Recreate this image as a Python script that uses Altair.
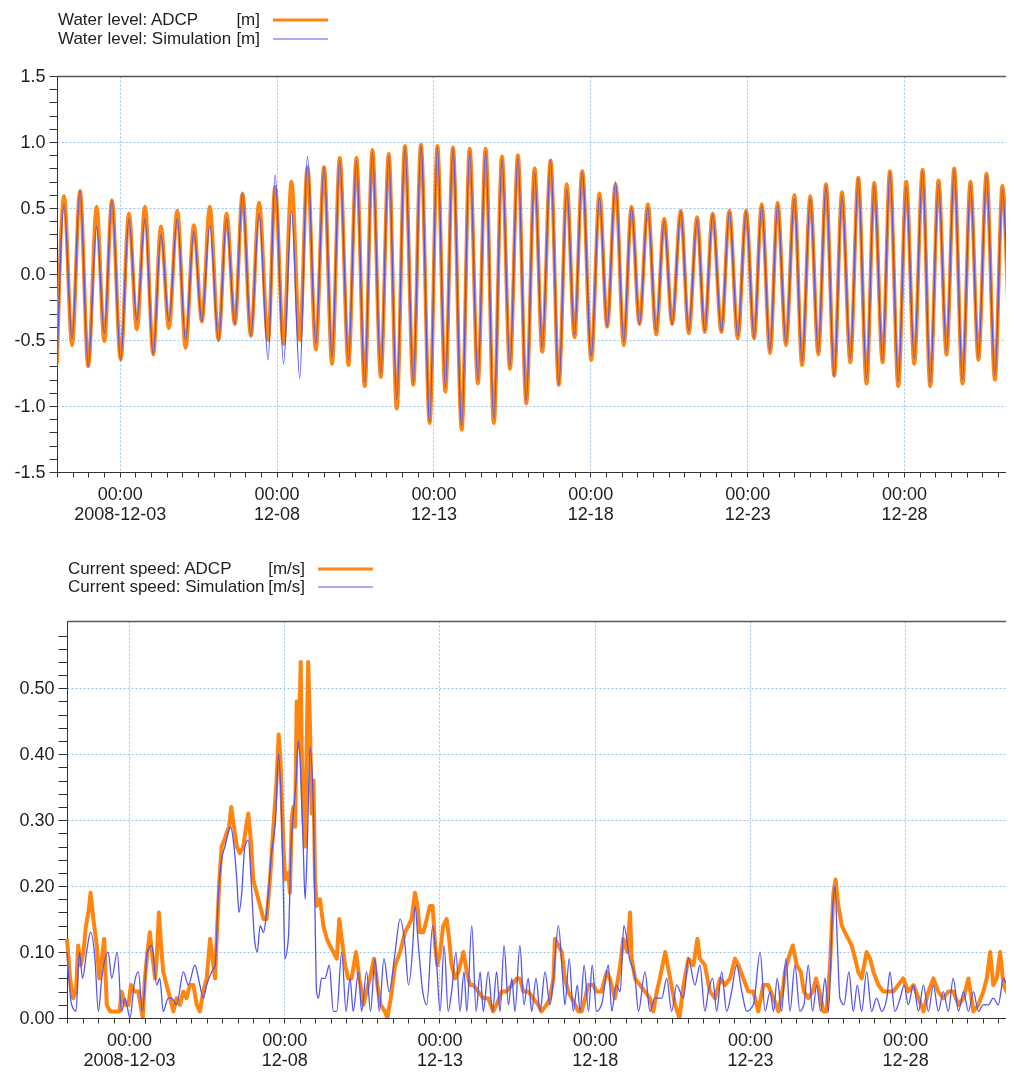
import altair as alt
import pandas as pd
import numpy as np

FONT = "Liberation Sans"
TEXT = "#1e1e1e"
ORANGE = "#ff8410"
BLUE = "#5555ee"
GRID = "#9cc3ee"
AXIS = "#333333"

# ---------------- Water level: tidal extremes (hours after 2008-12-01 00:00) ----------------
WL_HOURS = [
    0.0, 5.4, 11.5, 17.6, 23.9, 30.3, 36.2, 42.0, 48.7, 55.0,
    61.1, 67.3, 73.6, 79.5, 85.6, 92.0, 98.4, 104.7, 110.8, 116.9,
    123.6, 129.7, 136.1, 141.9, 148.3, 154.6, 161.5, 166.9, 173.3, 179.4,
    185.7, 191.6, 198.0, 204.3, 210.4, 216.3, 223.0, 229.1, 235.4, 241.3,
    247.7, 253.8, 259.9, 266.2, 272.6, 278.4, 285.1, 291.0, 297.1, 302.9,
    309.6, 315.7, 322.0, 327.9, 334.2, 340.4, 346.5, 352.6, 359.0, 365.4,
    371.2, 377.6, 383.9, 390.0, 395.9, 401.8, 408.7, 415.0, 420.9, 427.3,
    433.6, 439.5, 445.6, 452.0, 458.4, 464.5, 470.6, 477.2, 483.3, 489.7,
    495.5, 501.6, 508.3, 514.4, 520.8, 527.2, 533.3, 539.1, 545.5, 551.3,
    557.7, 564.1, 570.0, 576.3, 582.4, 588.3, 594.6, 600.5, 606.9, 613.0,
    619.3, 625.2, 631.6, 637.2, 643.6, 649.7, 655.8, 662.2, 668.0, 674.4,
    680.5, 686.4, 692.7, 698.8, 704.9, 711.1, 717.5, 723.3, 729.7, 732.0,
]
WL_ADCP = [
    -0.68, 0.59, -0.54, 0.63, -0.70, 0.51, -0.51, 0.56, -0.65, 0.46,
    -0.42, 0.51, -0.61, 0.36, -0.41, 0.48, -0.56, 0.37, -0.36, 0.51,
    -0.50, 0.46, -0.38, 0.61, -0.47, 0.54, -0.50, 0.66, -0.53, 0.70,
    -0.50, 0.81, -0.57, 0.81, -0.68, 0.88, -0.69, 0.88, -0.85, 0.94,
    -0.78, 0.91, -1.02, 0.97, -0.84, 0.98, -1.13, 0.97, -0.89, 0.96,
    -1.18, 0.95, -0.83, 0.95, -1.13, 0.89, -0.72, 0.90, -0.98, 0.80,
    -0.59, 0.86, -0.84, 0.68, -0.48, 0.78, -0.65, 0.61, -0.40, 0.68,
    -0.54, 0.51, -0.38, 0.53, -0.46, 0.42, -0.38, 0.48, -0.45, 0.43,
    -0.44, 0.46, -0.44, 0.48, -0.49, 0.48, -0.49, 0.53, -0.60, 0.54,
    -0.54, 0.60, -0.69, 0.59, -0.61, 0.68, -0.77, 0.62, -0.67, 0.73,
    -0.83, 0.69, -0.67, 0.78, -0.85, 0.70, -0.68, 0.79, -0.85, 0.71,
    -0.61, 0.80, -0.83, 0.70, -0.65, 0.76, -0.80, 0.67, -0.55, -0.30,
]
WL_SIM = [
    -0.72, 0.52, -0.49, 0.63, -0.70, 0.36, -0.45, 0.56, -0.65, 0.42,
    -0.35, 0.42, -0.61, 0.30, -0.36, 0.42, -0.50, 0.32, -0.36, 0.37,
    -0.51, 0.42, -0.38, 0.61, -0.47, 0.46, -0.65, 0.75, -0.68, 0.48,
    -0.79, 0.89, -0.53, 0.81, -0.63, 0.86, -0.65, 0.86, -0.82, 0.92,
    -0.75, 0.89, -0.95, 0.96, -0.82, 0.97, -1.12, 0.96, -0.86, 0.95,
    -1.15, 0.93, -0.80, 0.93, -1.10, 0.87, -0.70, 0.88, -0.96, 0.77,
    -0.56, 0.86, -0.84, 0.64, -0.46, 0.77, -0.62, 0.58, -0.40, 0.70,
    -0.51, 0.50, -0.38, 0.50, -0.43, 0.40, -0.38, 0.47, -0.43, 0.41,
    -0.43, 0.45, -0.43, 0.47, -0.47, 0.47, -0.48, 0.51, -0.58, 0.52,
    -0.52, 0.57, -0.66, 0.57, -0.59, 0.67, -0.78, 0.60, -0.64, 0.72,
    -0.79, 0.67, -0.65, 0.77, -0.81, 0.66, -0.64, 0.78, -0.82, 0.68,
    -0.58, 0.79, -0.80, 0.67, -0.63, 0.74, -0.77, 0.64, -0.53, -0.30,
]

# ---------------- Current speed: ADCP (day of December, value) ----------------
CS_ADCP_DAY = [
    1.00, 1.10, 1.20, 1.29, 1.36, 1.44, 1.53, 1.61, 1.69, 1.76, 1.85, 1.96, 2.04, 2.12, 2.20,
    2.28, 2.39, 2.55, 2.69, 2.76, 2.87, 2.98, 3.06, 3.16, 3.30, 3.44, 3.51, 3.59, 3.67, 3.76,
    3.84, 3.89, 3.96, 4.03, 4.10, 4.21, 4.32, 4.43, 4.53, 4.64, 4.75, 4.85, 4.96, 5.07, 5.18,
    5.28, 5.39, 5.50, 5.61, 5.69, 5.77, 5.82, 5.91, 5.98, 6.07, 6.14, 6.22, 6.29, 6.38, 6.47,
    6.57, 6.68, 6.77, 6.84, 6.92, 7.00, 7.11, 7.22, 7.33, 7.43, 7.54, 7.65, 7.75, 7.82, 7.88,
    7.97, 8.03, 8.13, 8.18, 8.24, 8.29, 8.35, 8.40, 8.46, 8.53, 8.56, 8.61, 8.67, 8.72, 8.77,
    8.83, 8.88, 8.94, 8.99, 9.04, 9.15, 9.26, 9.37, 9.47, 9.58, 9.69, 9.77, 9.85, 9.96, 10.06,
    10.17, 10.31, 10.42, 10.55, 10.65, 10.76, 10.89, 11.00, 11.10, 11.24, 11.32, 11.43, 11.57, 11.73, 11.89,
    12.00, 12.10, 12.21, 12.29, 12.37, 12.48, 12.59, 12.69, 12.78, 12.86, 12.93, 13.02, 13.12, 13.23, 13.31,
    13.39, 13.50, 13.61, 13.77, 13.88, 13.98, 14.09, 14.25, 14.41, 14.57, 14.73, 14.84, 15.00, 15.16, 15.33,
    15.49, 15.59, 15.70, 15.86, 16.02, 16.18, 16.29, 16.45, 16.56, 16.67, 16.72, 16.83, 16.94, 17.04, 17.15,
    17.26, 17.37, 17.47, 17.58, 17.69, 17.79, 17.96, 18.06, 18.22, 18.39, 18.49, 18.65, 18.82, 18.92, 19.05,
    19.14, 19.19, 19.30, 19.46, 19.62, 19.78, 19.89, 20.00, 20.10, 20.27, 20.43, 20.59, 20.73, 20.86, 21.02,
    21.18, 21.31, 21.39, 21.55, 21.71, 21.88, 22.04, 22.20, 22.36, 22.52, 22.63, 22.79, 22.95, 23.11, 23.27,
    23.43, 23.59, 23.76, 23.92, 24.08, 24.13, 24.24, 24.38, 24.51, 24.64, 24.74, 24.88, 25.02, 25.13, 25.24,
    25.37, 25.47, 25.58, 25.69, 25.76, 25.85, 25.96, 26.06, 26.17, 26.28, 26.39, 26.49, 26.60, 26.76, 26.87,
    26.98, 27.14, 27.30, 27.46, 27.62, 27.78, 27.94, 28.10, 28.27, 28.43, 28.59, 28.75, 28.91, 29.07, 29.23,
    29.39, 29.55, 29.72, 29.88, 30.04, 30.20, 30.36, 30.52, 30.63, 30.74, 30.84, 30.95, 31.06, 31.17, 31.27,
    31.38, 31.54,
]
CS_ADCP = [
    0.12, 0.06, 0.03, 0.04, 0.11, 0.08, 0.10, 0.14, 0.16, 0.19, 0.15, 0.11, 0.06, 0.09, 0.12,
    0.02, 0.01, 0.01, 0.01, 0.04, 0.02, 0.02, 0.05, 0.04, 0.04, 0.00, 0.06, 0.10, 0.13, 0.09,
    0.06, 0.09, 0.16, 0.11, 0.07, 0.05, 0.03, 0.01, 0.03, 0.02, 0.04, 0.03, 0.05, 0.05, 0.02,
    0.01, 0.04, 0.06, 0.12, 0.09, 0.06, 0.12, 0.21, 0.26, 0.27, 0.28, 0.29, 0.32, 0.29, 0.26,
    0.25, 0.26, 0.29, 0.31, 0.27, 0.21, 0.19, 0.17, 0.15, 0.15, 0.21, 0.29, 0.36, 0.43, 0.39,
    0.26, 0.21, 0.22, 0.19, 0.30, 0.32, 0.29, 0.48, 0.41, 0.54, 0.41, 0.31, 0.26, 0.41, 0.54,
    0.44, 0.31, 0.36, 0.21, 0.17, 0.18, 0.14, 0.12, 0.11, 0.10, 0.09, 0.15, 0.12, 0.08, 0.06,
    0.06, 0.10, 0.06, 0.02, 0.04, 0.06, 0.09, 0.05, 0.02, 0.01, 0.00, 0.03, 0.08, 0.10, 0.13,
    0.14, 0.15, 0.19, 0.17, 0.13, 0.13, 0.15, 0.17, 0.17, 0.11, 0.08, 0.10, 0.14, 0.15, 0.12,
    0.08, 0.06, 0.07, 0.10, 0.07, 0.05, 0.05, 0.04, 0.03, 0.03, 0.01, 0.02, 0.04, 0.04, 0.05,
    0.06, 0.06, 0.04, 0.04, 0.03, 0.02, 0.01, 0.02, 0.03, 0.06, 0.12, 0.11, 0.10, 0.06, 0.04,
    0.03, 0.02, 0.01, 0.01, 0.03, 0.05, 0.05, 0.04, 0.04, 0.07, 0.06, 0.03, 0.08, 0.12, 0.10,
    0.16, 0.09, 0.06, 0.05, 0.04, 0.03, 0.01, 0.04, 0.06, 0.10, 0.06, 0.02, 0.00, 0.05, 0.09,
    0.08, 0.12, 0.09, 0.08, 0.04, 0.03, 0.06, 0.05, 0.06, 0.09, 0.08, 0.06, 0.04, 0.04, 0.01,
    0.05, 0.05, 0.03, 0.01, 0.05, 0.07, 0.09, 0.11, 0.08, 0.07, 0.04, 0.03, 0.04, 0.06, 0.04,
    0.01, 0.01, 0.08, 0.19, 0.21, 0.17, 0.14, 0.13, 0.12, 0.11, 0.09, 0.07, 0.06, 0.10, 0.09,
    0.07, 0.05, 0.04, 0.04, 0.04, 0.05, 0.06, 0.04, 0.05, 0.03, 0.01, 0.04, 0.06, 0.04, 0.03,
    0.04, 0.04, 0.02, 0.03, 0.06, 0.01, 0.02, 0.04, 0.06, 0.10, 0.05, 0.06, 0.10, 0.05, 0.04,
    0.03, 0.04,
]

# ---------------- Current speed: Simulation (day of December, value) ----------------
CS_SIM_DAY = [
    1.00, 1.15, 1.29, 1.40, 1.50, 1.63, 1.76, 1.90, 2.01, 2.12, 2.33, 2.44, 2.62, 2.76, 2.87,
    3.03, 3.16, 3.30, 3.43, 3.59, 3.73, 3.89, 3.99, 4.10, 4.26, 4.37, 4.53, 4.75, 4.91, 5.12,
    5.28, 5.39, 5.50, 5.66, 5.77, 5.88, 5.98, 6.09, 6.27, 6.38, 6.47, 6.54, 6.63, 6.73, 6.84,
    6.93, 7.04, 7.13, 7.22, 7.33, 7.43, 7.59, 7.73, 7.81, 7.91, 7.97, 8.02, 8.13, 8.22, 8.29,
    8.38, 8.45, 8.53, 8.61, 8.67, 8.74, 8.83, 8.94, 8.99, 9.04, 9.10, 9.20, 9.31, 9.45, 9.58,
    9.69, 9.85, 9.99, 10.12, 10.22, 10.39, 10.49, 10.65, 10.78, 10.92, 11.06, 11.21, 11.38, 11.57, 11.73,
    11.89, 12.00, 12.14, 12.21, 12.32, 12.46, 12.59, 12.78, 12.91, 13.02, 13.15, 13.28, 13.39, 13.53, 13.66,
    13.79, 13.88, 14.04, 14.18, 14.31, 14.41, 14.57, 14.71, 14.84, 14.95, 15.08, 15.22, 15.33, 15.43, 15.59,
    15.72, 15.86, 15.97, 16.11, 16.24, 16.40, 16.56, 16.67, 16.83, 16.97, 17.04, 17.18, 17.31, 17.44, 17.53,
    17.66, 17.80, 17.92, 18.06, 18.22, 18.44, 18.55, 18.69, 18.82, 18.94, 19.12, 19.30, 19.41, 19.62, 19.78,
    19.94, 20.16, 20.32, 20.48, 20.64, 20.86, 21.02, 21.23, 21.39, 21.55, 21.66, 21.80, 21.93, 22.09, 22.25,
    22.41, 22.57, 22.74, 22.90, 23.11, 23.33, 23.49, 23.65, 23.76, 23.88, 24.02, 24.16, 24.29, 24.45, 24.61,
    24.74, 24.88, 25.02, 25.15, 25.28, 25.42, 25.53, 25.67, 25.74, 25.82, 25.90, 26.03, 26.19, 26.33, 26.46,
    26.60, 26.76, 26.92, 27.08, 27.25, 27.41, 27.51, 27.67, 27.84, 27.97, 28.10, 28.27, 28.43, 28.59, 28.75,
    28.91, 29.07, 29.23, 29.39, 29.55, 29.72, 29.88, 30.04, 30.20, 30.36, 30.52, 30.68, 30.84, 31.00, 31.17,
    31.33, 31.49, 31.54,
]
CS_SIM = [
    0.10, 0.02, 0.01, 0.10, 0.06, 0.10, 0.13, 0.09, 0.01, 0.06, 0.10, 0.06, 0.10, 0.01, 0.03,
    0.00, 0.05, 0.07, 0.01, 0.10, 0.11, 0.05, 0.06, 0.01, 0.03, 0.03, 0.02, 0.07, 0.05, 0.08,
    0.05, 0.03, 0.05, 0.07, 0.08, 0.19, 0.24, 0.26, 0.29, 0.26, 0.21, 0.16, 0.19, 0.26, 0.27,
    0.21, 0.12, 0.10, 0.14, 0.13, 0.16, 0.25, 0.31, 0.40, 0.31, 0.19, 0.09, 0.12, 0.26, 0.31,
    0.36, 0.42, 0.37, 0.26, 0.18, 0.26, 0.41, 0.31, 0.16, 0.04, 0.03, 0.06, 0.06, 0.08, 0.01,
    0.01, 0.10, 0.01, 0.06, 0.01, 0.07, 0.01, 0.07, 0.01, 0.09, 0.01, 0.09, 0.04, 0.10, 0.15,
    0.11, 0.05, 0.11, 0.17, 0.11, 0.04, 0.02, 0.14, 0.08, 0.01, 0.11, 0.01, 0.04, 0.10, 0.01,
    0.07, 0.01, 0.14, 0.01, 0.07, 0.01, 0.07, 0.01, 0.07, 0.01, 0.11, 0.02, 0.06, 0.01, 0.11,
    0.02, 0.06, 0.01, 0.06, 0.01, 0.07, 0.02, 0.06, 0.14, 0.06, 0.02, 0.09, 0.01, 0.05, 0.01,
    0.08, 0.01, 0.08, 0.01, 0.02, 0.08, 0.01, 0.05, 0.04, 0.14, 0.09, 0.06, 0.01, 0.07, 0.01,
    0.03, 0.03, 0.06, 0.01, 0.05, 0.03, 0.09, 0.05, 0.08, 0.01, 0.04, 0.06, 0.01, 0.07, 0.01,
    0.04, 0.08, 0.04, 0.01, 0.02, 0.10, 0.01, 0.04, 0.01, 0.06, 0.01, 0.09, 0.01, 0.08, 0.01,
    0.02, 0.08, 0.01, 0.05, 0.01, 0.06, 0.01, 0.17, 0.20, 0.11, 0.03, 0.02, 0.07, 0.01, 0.05,
    0.01, 0.07, 0.01, 0.03, 0.01, 0.03, 0.07, 0.01, 0.03, 0.05, 0.02, 0.05, 0.01, 0.05, 0.01,
    0.05, 0.01, 0.04, 0.01, 0.06, 0.01, 0.04, 0.01, 0.04, 0.01, 0.02, 0.02, 0.03, 0.02, 0.06,
    0.04, 0.02, 0.03,
]

WL_LABELS = ["Water level: ADCP", "Water level: Simulation"]
WL_UNITS = ["[m]", "[m]"]
CS_LABELS = ["Current speed: ADCP", "Current speed: Simulation"]
CS_UNITS = ["[m/s]", "[m/s]"]

MAJOR_DAYS = [3, 8, 13, 18, 23, 28]

# ---------------- frames ----------------
START = pd.Timestamp("2008-12-01 00:00")


def frame_hours(hours, vals):
    t = (START + pd.to_timedelta(hours, unit="h")).round("s")
    return pd.DataFrame({"t": t, "v": vals})


def frame_days(days, vals):
    t = (START + pd.to_timedelta(np.array(days) - 1.0, unit="D")).round("s")
    return pd.DataFrame({"t": t, "v": vals})


wl_adcp_df = frame_hours(WL_HOURS, WL_ADCP)
wl_sim_df = frame_hours(WL_HOURS, WL_SIM)
cs_adcp_df = frame_days(CS_ADCP_DAY, CS_ADCP)
cs_sim_df = frame_days(CS_SIM_DAY, CS_SIM)

# ---------------- axes ----------------
x_domain = [alt.DateTime(year=2008, month=12, date=1),
            alt.DateTime(year=2008, month=12, date=31, hours=6)]
x_ticks = [alt.DateTime(year=2008, month=12, date=d, hours=h)
           for d in range(1, 32) for h in (0, 12) if d < 31 or h == 0]
days_js = "[" + ",".join(str(d) for d in MAJOR_DAYS) + "]"
x_major = f"hours(datum.value) == 0 && indexof({days_js}, date(datum.value)) >= 0"
first_day = MAJOR_DAYS[0]
x_label = (f"{x_major} ? [timeFormat(datum.value, '%H:%M'), date(datum.value) == {first_day} ? "
           "timeFormat(datum.value, '%Y-%m-%d') : timeFormat(datum.value, '%m-%d')] : ''")


def x_axis():
    return alt.Axis(values=x_ticks, labelExpr=x_label, labelOverlap=False, labelFlush=False,
                    labelFont=FONT, labelFontSize=18, labelColor=TEXT, labelLineHeight=20,
                    labelPadding=8, tickSize=5, tickColor=AXIS, domainColor=AXIS,
                    grid=True, gridColor=GRID, gridDash=[2, 2], gridWidth=1,
                    gridOpacity={"condition": {"test": x_major, "value": 1}, "value": 0},
                    title=None)


def top_border():
    return alt.Axis(orient="top", labels=False, ticks=False, grid=False, domain=True,
                    domainColor="#555555", domainWidth=1.5, title=None, minExtent=0, maxExtent=0)


def y_axis(values, step_mult, fmt, neg, tick, offset):
    test = f"abs(datum.value*{step_mult} - round(datum.value*{step_mult})) < 0.001"
    if neg:
        lab = f"{test} ? (datum.value < -0.001 ? '-' : '') + format(abs(datum.value), '{fmt}') : ''"
    else:
        lab = f"{test} ? format(datum.value, '{fmt}') : ''"
    return alt.Axis(values=values, labelExpr=lab, labelOverlap=False, labelFont=FONT,
                    labelFontSize=18, labelColor=TEXT, labelPadding=4, tickSize=tick,
                    tickColor=AXIS, domainColor=AXIS, grid=True, gridColor=GRID,
                    gridDash=[2, 2], gridWidth=1, offset=offset,
                    gridOpacity={"condition": {"test": test, "value": 1}, "value": 0},
                    minExtent=44, maxExtent=44, title=None)


wl_ticks = [round(-1.5 + 0.1 * i, 1) for i in range(31)]
cs_ticks = [round(0.02 * i, 2) for i in range(30)]


def legend_layers(labels, units, x_text, x_unit, x1, x2, ys):
    df = pd.DataFrame({"label": labels, "unit": units, "row": list(range(len(labels)))})
    colors = [ORANGE, BLUE]
    widths = [3, 1]
    out = []
    for i in range(len(labels)):
        base = alt.Chart(df).transform_filter(alt.datum.row == i)
        out.append(base.mark_text(align="left", baseline="middle", font=FONT, fontSize=17,
                                  color=TEXT).encode(text="label:N", x=alt.value(x_text), y=alt.value(ys[i])))
        out.append(base.mark_text(align="right", baseline="middle", font=FONT, fontSize=17,
                                  color=TEXT).encode(text="unit:N", x=alt.value(x_unit), y=alt.value(ys[i])))
        out.append(base.mark_rule(color=colors[i], strokeWidth=widths[i]).encode(
            x=alt.value(x1), x2=alt.value(x2), y=alt.value(ys[i])))
    return out


W = 949


def panel(adcp_df, sim_df, y_dom, yax, interp_adcp, adcp_width, x_range, height, legend):
    xs = alt.Scale(domain=x_domain, range=x_range, nice=False)
    ys = alt.Scale(domain=y_dom, nice=False, zero=False)
    orange = alt.Chart(adcp_df).mark_line(color=ORANGE, strokeWidth=adcp_width, clip=True,
                                          interpolate=interp_adcp, strokeJoin="round").encode(
        x=alt.X("t:T", scale=xs, axis=x_axis()),
        y=alt.Y("v:Q", scale=ys, axis=yax))
    blue = alt.Chart(sim_df).mark_line(color=BLUE, strokeWidth=1.3, clip=True, blend="multiply",
                                       interpolate="monotone").encode(
        x=alt.X("t:T", scale=xs, axis=top_border()),
        y=alt.Y("v:Q", scale=ys, axis=yax))
    return alt.layer(orange, blue, *legend).resolve_axis(x="independent").properties(
        width=W, height=height)


top = panel(wl_adcp_df, wl_sim_df, [-1.5, 1.5], y_axis(wl_ticks, 2, ".1f", True, 8, 0),
            "monotone", 3.8, [0, W], 396,
            legend_layers(WL_LABELS, WL_UNITS, 1, 203, 216, 271, [-56, -37]))
bottom = panel(cs_adcp_df, cs_sim_df, [0, 0.602], y_axis(cs_ticks, 10, ".2f", False, 9, -10),
               "linear", 4.0, [10, W], 397,
               legend_layers(CS_LABELS, CS_UNITS, 11, 248, 261, 316, [-52, -34]))

chart = alt.concat(top, bottom, columns=1, spacing=37).properties(
    padding={"left": 5, "top": 3, "right": 0, "bottom": 0},
    background="white",
).configure_view(stroke=None)

chart.save("out.html", embed_options={"renderer": "svg", "actions": False})
